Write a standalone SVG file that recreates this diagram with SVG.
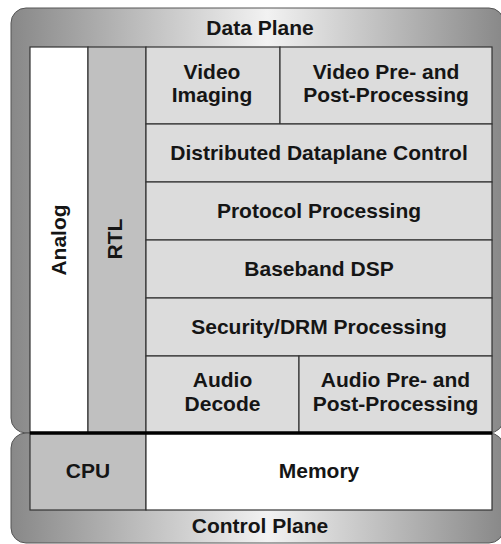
<svg xmlns="http://www.w3.org/2000/svg" width="501" height="544" viewBox="0 0 501 544">
<defs>
<linearGradient id="g" x1="0" y1="0" x2="1" y2="0">
<stop offset="0" stop-color="#888"/>
<stop offset="0.52" stop-color="#f2f2f2"/>
<stop offset="1" stop-color="#888"/>
</linearGradient>
<style>
.plane{fill:url(#g);stroke:#555;stroke-width:1}
.box{stroke:#333;stroke-width:1.2}
.w{fill:#fff}.d{fill:#c0c0c0}.l{fill:#dcdcdc}
text{font-family:"Liberation Sans",Arial,sans-serif;font-weight:bold;font-size:21px;fill:#151515;text-anchor:middle}
</style>
</defs>
<g id="data-plane">
<rect class="plane" x="11" y="8" width="493" height="425" rx="15" ry="15"/>
<text x="260" y="35">Data Plane</text>
</g>
<g id="control-plane">
<rect class="plane" x="11" y="433" width="493" height="110" rx="15" ry="15"/>
<text x="260" y="533">Control Plane</text>
</g>
<g id="analog">
<rect class="box w" x="30" y="47" width="58" height="386"/>
<text transform="translate(66,240) rotate(-90)">Analog</text>
</g>
<g id="rtl">
<rect class="box d" x="88" y="47" width="58" height="386"/>
<text transform="translate(122,239) rotate(-90)">RTL</text>
</g>
<g id="video-imaging">
<rect class="box l" x="146" y="47" width="134" height="77"/>
<text x="212" y="79">Video</text>
<text x="212" y="102">Imaging</text>
</g>
<g id="video-pre-post">
<rect class="box l" x="280" y="47" width="212" height="77"/>
<text x="386" y="79">Video Pre- and</text>
<text x="386" y="102">Post-Processing</text>
</g>
<g id="distributed-dataplane-control">
<rect class="box l" x="146" y="124" width="346" height="58"/>
<text x="319" y="160">Distributed Dataplane Control</text>
</g>
<g id="protocol-processing">
<rect class="box l" x="146" y="182" width="346" height="58"/>
<text x="319" y="218">Protocol Processing</text>
</g>
<g id="baseband-dsp">
<rect class="box l" x="146" y="240" width="346" height="58"/>
<text x="319" y="276">Baseband DSP</text>
</g>
<g id="security-drm">
<rect class="box l" x="146" y="298" width="346" height="58"/>
<text x="319" y="334">Security/DRM Processing</text>
</g>
<g id="audio-decode">
<rect class="box l" x="146" y="356" width="153" height="77"/>
<text x="222.5" y="387">Audio</text>
<text x="222.5" y="411">Decode</text>
</g>
<g id="audio-pre-post">
<rect class="box l" x="299" y="356" width="193" height="77"/>
<text x="395.5" y="387">Audio Pre- and</text>
<text x="395.5" y="411">Post-Processing</text>
</g>
<g id="cpu">
<rect class="box d" x="30" y="433" width="116" height="77"/>
<text x="88" y="478">CPU</text>
</g>
<g id="memory">
<rect class="box w" x="146" y="433" width="346" height="77"/>
<text x="319" y="478">Memory</text>
</g>
<g id="connectors">
<line x1="30" y1="433" x2="492" y2="433" stroke="#000" stroke-width="3.5"/>
</g>
</svg>
